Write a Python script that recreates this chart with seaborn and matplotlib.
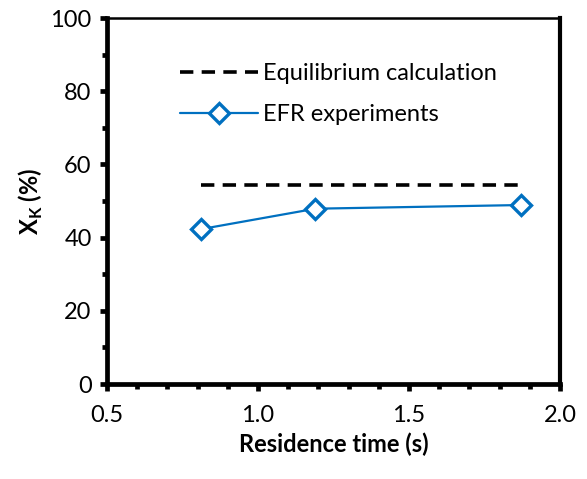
import matplotlib
matplotlib.use("Agg")
import matplotlib.pyplot as plt
import seaborn as sns
import pandas as pd
from matplotlib.ticker import MultipleLocator

residence_time = [0.81, 1.19, 1.87]
efr_xk = [42.3, 47.9, 48.9]
equilibrium_xk = [54.5, 54.5, 54.5]

sns.set_theme(style="white")
plt.rcParams['font.family'] = ['Lato', 'DejaVu Sans']

fig = plt.figure(figsize=(5.87, 4.79), dpi=100)
ax = fig.add_axes([0.1823, 0.1983, 0.954 - 0.1823, 0.9624 - 0.1983])

blue = "#0070C0"
df = pd.DataFrame({"t": residence_time, "efr": efr_xk, "eq": equilibrium_xk})

sns.lineplot(data=df, x="t", y="eq", ax=ax, color="black", linewidth=2.6,
             label="Equilibrium calculation", dashes=False)
ax.lines[-1].set_dashes((3.7, 2.3))
sns.lineplot(data=df, x="t", y="efr", ax=ax, color=blue, linewidth=1.6,
             marker="D", markersize=10, markerfacecolor="white",
             markeredgecolor=blue, markeredgewidth=2.4,
             label="EFR experiments")

ax.set_xlim(0.5, 2.0)
ax.set_ylim(0, 100)
ax.xaxis.set_major_locator(MultipleLocator(0.5))
ax.xaxis.set_minor_locator(MultipleLocator(0.1))
ax.yaxis.set_major_locator(MultipleLocator(20))
ax.yaxis.set_minor_locator(MultipleLocator(10))
ax.set_xticklabels([f"{v:.1f}" for v in ax.get_xticks()])

for side in ["left", "bottom"]:
    ax.spines[side].set_linewidth(3.4)
    ax.spines[side].set_color("black")
ax.spines["right"].set_linewidth(3.0)
ax.spines["top"].set_linewidth(1.8)
ax.spines["right"].set_color("black")
ax.spines["top"].set_color("black")

ax.tick_params(axis="both", which="major", direction="out", length=5, width=3.4,
               labelsize=17, color="black", labelcolor="black", pad=6,
               left=True, bottom=True)
ax.tick_params(axis="x", which="major", pad=10)
ax.tick_params(axis="both", which="minor", direction="out", length=3.5, width=3.4,
               color="black", left=True, bottom=True)

ax.set_xlabel("Residence time (s)", fontsize=17, fontweight="bold", labelpad=5,
              color="black")
ax.set_ylabel(r"X$_\mathregular{K}$ (%)", fontsize=17, fontweight="bold", labelpad=4,
              color="black")

leg = ax.legend(loc="upper left", bbox_to_anchor=(0.13, 0.915), frameon=False,
                fontsize=17, handlelength=3.3, handletextpad=0.2, labelspacing=0.85,
                borderaxespad=0.2)
for t in leg.get_texts():
    t.set_color("black")

fig.savefig("out.png", dpi=100)
